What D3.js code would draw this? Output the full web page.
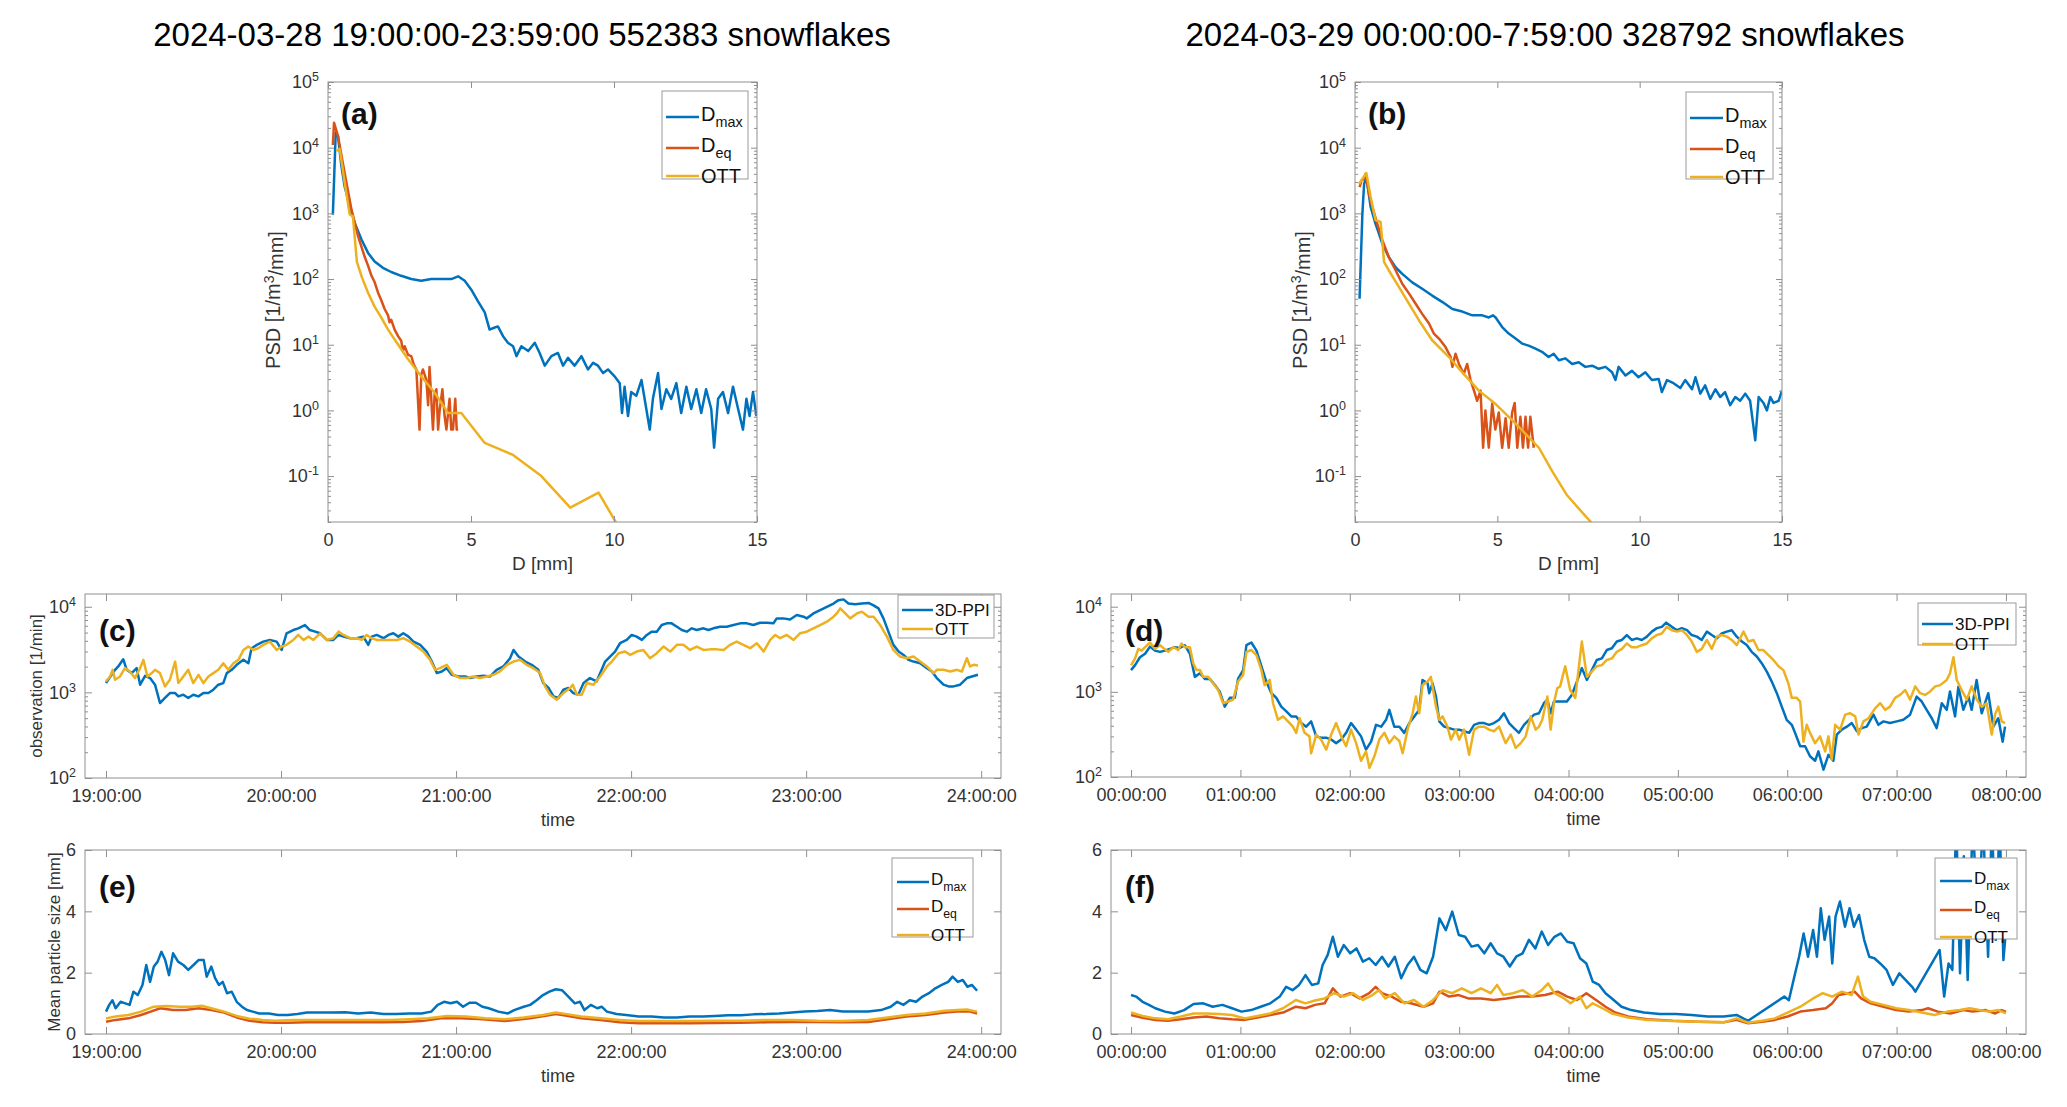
<!DOCTYPE html>
<html>
<head>
<meta charset="utf-8">
<script src="https://cdn.jsdelivr.net/npm/d3@7"></script>
<style>
  body { margin: 0; background: #fff; }
</style>
</head>
<body>
<script>
// ---------- data ----------
// PSD panels: [D (mm), PSD (1/m^3/mm)]
const psdDmax28 = [[0.17,950],[0.27,17000],[0.35,15000],[0.47,5200],[0.58,2600],[0.76,1300],[0.93,720],[1.17,400],[1.4,250],[1.63,185],[1.92,148],[2.21,128],[2.56,112],[2.91,100],[3.26,94],[3.61,100],[3.96,100],[4.31,100],[4.55,110],[4.78,94],[5.01,69],[5.24,46],[5.48,31],[5.65,17],[5.83,18.3],[5.94,19],[6.12,13.5],[6.29,10.7],[6.47,9.5],[6.59,6.7],[6.76,9.5],[7.0,8],[7.23,10.7],[7.4,7.5],[7.58,4.8],[7.81,6.7],[8.04,7.5],[8.22,4.8],[8.39,6.3],[8.62,4.8],[8.86,6.7],[9.09,4.2],[9.27,5.3],[9.44,4.8],[9.62,3.7],[9.79,4.2],[10.02,3.3],[10.2,2.6],[10.28,0.91],[10.37,2.3],[10.49,0.82],[10.6,1.9],[10.78,1.67],[10.96,2.9],[11.13,1.05],[11.25,0.51],[11.36,1.5],[11.54,3.7],[11.66,1.05],[11.83,2.1],[12.0,1.5],[12.18,2.6],[12.35,0.91],[12.53,2.3],[12.7,1.05],[12.88,2.1],[13.05,0.91],[13.22,2.1],[13.4,1.05],[13.5,0.27],[13.64,1.5],[13.81,1.9],[13.99,0.91],[14.16,2.3],[14.34,1.05],[14.51,0.51],[14.63,1.5],[14.74,0.82],[14.86,1.9],[14.98,0.82]];
const psdDeq28 = [[0.17,11000],[0.21,24000],[0.35,15000],[0.58,4150],[0.82,1150],[1.05,450],[1.28,220],[1.4,160],[1.52,112],[1.63,90],[1.75,62],[1.86,48],[1.98,35],[2.1,28],[2.15,22],[2.21,24],[2.33,17],[2.45,13.5],[2.56,11.5],[2.62,8],[2.68,9.5],[2.8,7],[2.91,6.7],[3.0,5],[3.09,4.2],[3.2,0.51],[3.26,3.5],[3.32,4.2],[3.44,2.9],[3.5,1.2],[3.55,4.6],[3.67,0.51],[3.73,1.8],[3.79,2.1],[3.85,0.51],[3.9,0.96],[4.0,2.1],[4.08,0.8],[4.14,0.51],[4.25,1.5],[4.31,0.51],[4.37,0.51],[4.45,1.5],[4.5,0.51],[4.55,0.51]];
const psdOtt28 = [[0.29,8900],[0.41,9600],[0.58,3000],[0.76,960],[0.87,900],[1.01,182],[1.19,105],[1.4,62],[1.63,38],[1.86,26],[2.1,17],[2.33,12],[2.8,6],[3.26,3.3],[3.73,1.86],[4.2,0.91],[4.66,0.91],[5.48,0.32],[6.47,0.21],[7.46,0.1],[8.47,0.033],[9.46,0.056],[11,0.004]];

const psdDmax29 = [[0.16,50],[0.26,1000],[0.32,2800],[0.4,3560],[0.55,1250],[0.72,700],[0.96,345],[1.19,215],[1.43,150],[1.66,120],[2.01,89],[2.36,71],[2.71,56],[3.06,45],[3.42,35],[3.77,32],[4.12,28],[4.47,28],[4.7,26],[4.85,28],[4.94,26],[5.17,18.6],[5.4,14.8],[5.64,12.4],[5.87,10.4],[6.1,9.7],[6.34,8.7],[6.57,7.8],[6.8,6.5],[6.98,7.3],[7.16,5.8],[7.39,6.2],[7.63,5.1],[7.86,5.4],[8.09,4.6],[8.33,4.8],[8.56,4.3],[8.8,4.6],[9.03,3.8],[9.15,2.9],[9.26,4.6],[9.5,3.4],[9.73,4.0],[9.96,3.2],[10.2,3.8],[10.43,2.9],[10.67,3.0],[10.78,1.9],[10.96,2.9],[11.19,2.6],[11.43,2.2],[11.6,2.9],[11.84,2.1],[11.96,3.2],[12.13,1.8],[12.3,2.4],[12.48,1.5],[12.66,2.1],[12.83,1.6],[13.0,1.9],[13.18,1.2],[13.36,1.6],[13.53,1.4],[13.71,1.8],[13.88,1.4],[14.06,0.35],[14.18,1.6],[14.35,1.3],[14.47,1.0],[14.59,1.6],[14.7,1.3],[14.88,1.4],[15.0,2.0]];
const psdDeq29 = [[0.16,2500],[0.23,3170],[0.32,3370],[0.37,4000],[0.49,2000],[0.61,1250],[0.78,700],[0.96,390],[1.19,215],[1.43,135],[1.66,85],[1.9,60],[2.13,42],[2.36,29.5],[2.6,21],[2.77,14.8],[2.95,12.4],[3.18,9.2],[3.36,6.5],[3.42,4.6],[3.53,7.3],[3.65,5.1],[3.82,3.6],[3.94,5.1],[4.06,2.9],[4.18,2.0],[4.29,1.4],[4.41,2.0],[4.5,0.27],[4.58,1.0],[4.7,0.27],[4.82,1.27],[4.93,0.51],[5.05,0.93],[5.17,0.27],[5.29,0.76],[5.4,0.27],[5.52,0.93],[5.61,1.3],[5.7,0.27],[5.81,0.8],[5.9,0.27],[5.99,0.8],[6.08,0.27],[6.16,0.8],[6.28,0.27]];
const psdOtt29 = [[0.14,2800],[0.26,3370],[0.4,4100],[0.55,1780],[0.72,790],[0.9,740],[1.02,182],[1.19,135],[1.54,76],[1.9,42],[2.25,23.4],[2.71,11.7],[3.3,6.5],[3.77,3.8],[4.35,2.0],[4.94,1.25],[5.52,0.71],[5.99,0.44],[6.46,0.27],[6.92,0.12],[7.45,0.051],[7.98,0.028],[8.33,0.019],[9.5,0.004]];

// observation panels: [minutes after 19:00 (c) / after 00:00 (d), count per minute]
const obsPPI28 = [[0,1285],[1.4,1510],[3.1,1835],[4.2,2010],[5.9,2440],[7.1,1835],[8.8,1680],[10.5,1920],[11.7,1230],[13.4,1560],[15.1,1470],[16.8,1230],[18.5,751],[20.2,860],[21.9,982],[23.7,982],[24.8,898],[26.5,940],[28.2,860],[29.9,940],[31.7,898],[33.4,982],[35.1,982],[36.8,1074],[38.5,1230],[40.2,1285],[41.4,1680],[43.1,1835],[44.8,2100],[47.1,2400],[48.8,2190],[49.9,3280],[51.7,3590],[53.9,3920],[56.2,4100],[58.5,3920],[60.2,3130],[61.9,4900],[64.2,5350],[65.9,5600],[68.2,6120],[69.9,5350],[71.7,5120],[73.4,4900],[75.7,4100],[77.9,4100],[79.7,4690],[81.4,4480],[83.7,4290],[85.9,4290],[88.2,4480],[89.9,3590],[91.1,4480],[92.8,4690],[95.1,4290],[96.8,4690],[98.5,4900],[100.2,4480],[101.9,4900],[103.7,4480],[105.4,3920],[107.7,3590],[109.9,3000],[111.7,2290],[113.4,1680],[115.1,1755],[116.8,1920],[118.5,1605],[120.8,1535],[123.1,1535],[124.8,1470],[127.1,1535],[129.4,1560],[131.7,1535],[133.9,1835],[136.2,2010],[138.5,2510],[139.7,3130],[141.4,2620],[143.7,2290],[145.9,2100],[148.2,1835],[149.9,1285],[151.7,1125],[153.4,898],[155.1,860],[156.8,1074],[158.5,1125],[160.2,982],[161.9,940],[163.7,1285],[165.9,1470],[168.2,1345],[169.9,1835],[171.1,2290],[172.8,2620],[174.5,3000],[176.2,3750],[178.5,4100],[180.2,4690],[181.9,4480],[183.7,4100],[185.4,4690],[187.1,5120],[188.8,5120],[190.5,6120],[192.2,6400],[193.9,6400],[195.7,5850],[197.4,5350],[199.1,5120],[200.8,5600],[202.5,5350],[204.8,5600],[206.5,5350],[208.2,5600],[210.5,5850],[212.8,5850],[215.1,6120],[217.4,6400],[219.7,6400],[221.9,6120],[224.2,6500],[226.5,6500],[228.8,6400],[229.9,7320],[232.2,7320],[234.5,7100],[236.8,8000],[239.1,7650],[240.2,7320],[242.5,8360],[244.8,9150],[247.1,10000],[249.4,10900],[251.1,11950],[252.8,12200],[254.5,10900],[256.8,10700],[259.1,10900],[261.4,11100],[263.1,10400],[264.8,9570],[266.5,7320],[268.2,5120],[269.9,3590],[271.7,3000],[273.4,2740],[275.1,2400],[276.8,2290],[279.1,2190],[281.4,1920],[283.1,1755],[284.8,1470],[287.1,1230],[288.8,1175],[290.5,1175],[292.8,1230],[295.1,1470],[296.8,1535],[298.9,1605]];
const obsOTT28 = [[0,1345],[1.4,1535],[2.3,1835],[3.1,1405],[4.8,1535],[6.5,1920],[8.2,1755],[9.9,1470],[11.7,1920],[12.8,2400],[14.2,1535],[15.7,1680],[16.8,1835],[18.5,1680],[20.2,1175],[21.9,1405],[23.7,2290],[24.8,1285],[26.5,1535],[28.2,1835],[29.9,1285],[31.7,1605],[33.4,1285],[35.1,1535],[36.8,1680],[38.5,1835],[40.2,2190],[41.9,1835],[43.7,2190],[45.4,2400],[47.1,3130],[48.8,3430],[50.5,3130],[52.2,3280],[53.9,3590],[56.2,3920],[58.5,3130],[60.2,3430],[61.9,3590],[64.2,4100],[65.9,4690],[67.7,4100],[69.4,4480],[71.1,4100],[73.4,4900],[75.7,4100],[77.9,4290],[79.7,5120],[81.4,4690],[83.7,4290],[85.9,4290],[87.7,4100],[89.4,4690],[91.1,4290],[92.8,4100],[95.1,4100],[97.4,4100],[99.7,4100],[101.9,4290],[104.2,3920],[106.5,3430],[108.8,3000],[111.1,2400],[112.8,1835],[114.5,1920],[116.8,2100],[119.1,1605],[121.4,1470],[123.7,1470],[125.9,1535],[128.2,1470],[130.5,1535],[132.8,1605],[135.1,1755],[137.4,2100],[139.7,2290],[141.9,2400],[144.2,2100],[146.5,1920],[148.8,1680],[150.5,1175],[152.2,940],[154.5,822],[156.8,982],[159.1,1125],[160.0,1230],[161.4,940],[163.1,940],[164.8,1285],[167.1,1230],[169.4,1535],[171.7,2010],[173.4,2290],[175.7,2870],[177.9,3000],[179.7,2740],[181.9,3000],[184.2,3130],[186.5,2510],[188.8,2870],[191.1,3430],[193.4,3000],[195.7,3590],[197.9,3590],[200.2,3130],[202.5,3430],[204.8,3130],[207.1,3180],[209.4,3180],[211.7,3130],[213.9,3590],[216.2,3920],[218.5,3590],[220.8,3280],[223.1,3750],[225.4,3000],[227.7,4100],[229.4,4690],[231.1,4290],[233.4,4690],[235.7,4100],[237.9,4900],[240.2,5120],[242.5,5600],[244.8,6120],[247.1,6700],[249.4,7650],[250.5,8360],[251.7,9570],[253.4,8360],[255.1,7320],[257.4,8360],[259.1,8750],[261.4,7650],[263.1,7650],[265.4,6120],[267.7,4480],[269.9,3130],[272.2,2620],[274.5,2510],[276.8,2620],[279.1,2290],[281.4,2010],[283.7,1680],[284.8,1835],[287.1,1835],[289.4,1755],[291.7,1835],[293.4,1755],[295.1,2510],[296.2,2010],[297.4,2100],[298.9,2060]];

const obsPPI29 = [[0,1800],[2.2,2060],[4.9,2550],[7.7,2800],[10.4,3400],[13.1,3050],[15.9,2950],[18.6,3050],[21.3,3200],[24.1,3350],[26.8,3280],[29.5,3530],[32.3,2800],[35,1500],[37.8,1650],[40.5,1420],[43.2,1420],[46,1200],[48.7,1000],[51.4,670],[54.2,850],[56.9,850],[58.7,1420],[61.5,1800],[63.3,3530],[66,3800],[68.8,3050],[71.5,2000],[74.2,1320],[77,965],[79.7,850],[82.4,670],[85.2,590],[87.9,515],[90.6,515],[93.4,430],[96.1,390],[98.8,450],[101.6,300],[104.3,290],[107.1,290],[109.8,275],[112.5,250],[115.3,275],[118,330],[120.7,430],[123.5,360],[126.2,300],[128.9,210],[131.7,260],[134.4,410],[137.2,390],[139.9,470],[141.7,615],[144.4,390],[147.2,390],[149.9,330],[152.7,430],[155.4,515],[158.1,615],[159.9,1380],[162.7,1260],[163.6,965],[165.4,1260],[167.3,880],[169.1,450],[171.8,390],[174.5,375],[177.3,360],[180,360],[182.7,345],[185.5,330],[188.2,410],[190.9,430],[193.7,430],[196.4,410],[199.1,430],[201.9,470],[204.6,560],[207.4,430],[210.1,375],[212.8,330],[215.6,410],[218.3,470],[221.1,540],[223.8,560],[226.5,735],[228.4,810],[230.2,560],[232,770],[234.8,770],[239.1,770],[241.8,920],[244.6,1320],[247.3,1900],[250.1,1380],[252.8,1800],[255.5,2370],[258.3,2470],[261,3100],[263.8,3250],[266.5,3900],[269.3,4070],[272,4650],[274.7,4070],[277.5,4250],[280.2,4070],[283,4450],[285.7,5100],[288.5,5600],[291.2,5800],[293.6,6500],[296.7,5800],[299.5,5300],[302.2,5600],[305,5300],[307.6,4650],[310.4,4450],[313.1,4070],[315.9,5100],[318.6,4650],[321.4,4250],[324.1,4850],[326.8,5100],[329.6,5300],[332.3,4450],[335.1,3900],[337.8,3550],[340.5,2950],[343.3,2600],[346,2170],[348.8,1730],[351.5,1320],[354.3,965],[357,670],[359.7,470],[362.5,410],[364.3,330],[367.1,230],[369.8,230],[372.5,175],[375.3,155],[377.1,200],[379.9,122],[382.6,182],[385.3,155],[387.2,315],[389.9,360],[392.7,390],[395.4,430],[398.2,345],[400.9,375],[403.6,390],[407.3,540],[410,410],[412.8,450],[416.4,430],[420.1,450],[423.7,470],[427.4,540],[431,880],[433.8,770],[436.5,615],[439.3,490],[442,375],[444.8,735],[447.5,615],[449.3,1010],[452.1,515],[453.9,1150],[456.6,615],[459.4,880],[461.2,615],[463.9,1380],[466.7,560],[470.3,965],[473.1,390],[475.8,490],[478.2,260],[479.5,390]];
const obsOTT29 = [[0,2040],[2.2,2470],[4,3200],[5.8,3050],[7.7,3350],[10.4,3800],[13.1,3200],[15.9,3530],[17.7,3280],[20.4,2950],[23.2,3350],[25.9,3100],[27.7,3700],[29.5,3350],[32.3,3350],[34.1,2170],[35.9,1800],[37.8,1800],[39.6,1500],[42.3,1500],[45,1260],[47.8,1050],[50.5,735],[53.3,770],[56,810],[58.7,1320],[61.5,1580],[63.3,2950],[66,3100],[68.8,2700],[71.5,1800],[73.3,1200],[76.1,1380],[77.9,735],[80.6,470],[83.4,515],[86.1,450],[88.8,390],[90.6,330],[92.5,490],[95.2,330],[97.9,300],[98.8,190],[101.6,315],[104.3,275],[107.1,210],[109.8,315],[112.5,430],[115.3,300],[118,230],[120.7,360],[123.5,250],[126.2,155],[128.9,200],[130.8,128],[133.5,175],[136.2,275],[139,330],[141.7,250],[144.4,300],[147.2,265],[149,190],[151.7,360],[154.5,560],[156.3,880],[158.1,560],[159.9,1200],[162.7,1320],[164.5,1500],[167.3,670],[169.1,470],[170.9,515],[173.6,390],[175.5,275],[178.2,360],[180,275],[182.7,360],[185.5,182],[188.2,360],[190.9,390],[193.7,390],[196.4,360],[199.1,345],[201.9,390],[205.5,250],[208.3,315],[211,220],[213.8,250],[216.5,300],[219.3,515],[222,360],[223.8,390],[225.6,470],[228.4,880],[230.2,360],[232,735],[233.8,1100],[235.4,1160],[238.2,2000],[240.9,1050],[243.7,850],[247.3,3900],[250.1,1500],[252.8,1730],[255.5,2000],[258.3,2060],[261,2370],[263.8,2470],[266.5,2950],[269.3,3200],[272,3700],[274.7,3350],[277.5,3350],[280.2,3530],[283,3700],[285.7,4250],[288.5,4650],[291.2,4850],[294,5800],[296.7,5300],[299.5,5100],[302.2,5300],[305,4650],[307.6,3900],[310.4,2950],[313.1,3200],[315.9,4070],[318.6,3200],[321.4,4450],[324.1,4650],[326.8,4450],[329.6,4070],[332.3,3530],[336,5100],[338.7,3900],[341.5,4070],[344.2,3100],[346.9,3100],[349.7,2700],[352.4,2370],[355.2,2000],[357.9,1800],[360.6,1260],[362.5,850],[365.2,850],[367.1,770],[368.9,260],[370.7,410],[372.5,330],[375.3,250],[378,300],[380.8,200],[382.6,300],[384.4,160],[386.3,410],[389,360],[391.8,540],[394.5,560],[397.3,515],[399.1,315],[401.8,450],[404.6,490],[408.2,640],[411,735],[413.7,615],[416.4,670],[419.2,850],[421.9,920],[424.7,1050],[427.4,810],[430.2,1160],[432.9,965],[435.7,920],[438.4,1010],[441.2,1160],[443.9,1200],[447.5,1380],[449.3,1650],[451.2,2550],[453,1380],[455.7,1050],[458.5,810],[461.2,1160],[464,810],[466.7,670],[469.4,735],[472.2,315],[474,540],[475.8,670],[477.7,450],[479.5,430]];

// mean particle size panels: [minutes, mm]
const sizeDmax28 = [[0,0.73],[1.1,0.95],[2.2,1.1],[3.3,0.84],[5,1.05],[6.6,1.0],[8.1,0.95],[9.4,1.38],[10.9,1.27],[12.5,1.6],[13.8,2.25],[15.1,1.7],[16.4,2.2],[17.7,2.36],[19,2.68],[20.3,2.41],[21.6,1.92],[23,2.63],[24.7,2.36],[26.5,2.25],[28.2,2.09],[30,2.25],[31.7,2.41],[33.5,2.41],[34.5,1.87],[36.1,2.2],[37.4,1.82],[38.7,1.6],[40,1.7],[41.5,1.33],[43.1,1.38],[44.8,1.05],[46.6,0.89],[48.3,0.78],[50.3,0.73],[52.5,0.67],[55.8,0.67],[59,0.62],[62.3,0.62],[65.6,0.65],[68.9,0.7],[73.3,0.7],[77.6,0.7],[82,0.71],[86.4,0.67],[90.7,0.7],[95.1,0.65],[99.5,0.65],[103.9,0.67],[108.2,0.67],[111.5,0.73],[113.7,0.95],[115.9,1.05],[118.1,1.0],[120.3,1.05],[122.4,0.89],[124.6,1.02],[126.8,1.02],[129,0.89],[131.2,0.84],[134.5,0.73],[137.8,0.67],[139.9,0.78],[143.2,0.89],[145.4,0.95],[147.6,1.1],[149.8,1.27],[152,1.38],[154.2,1.46],[156.3,1.43],[158.5,1.22],[160.7,1.0],[162.5,1.05],[164,0.78],[166.2,0.95],[168.4,0.84],[169.9,0.89],[171.7,0.73],[175,0.65],[178.3,0.62],[182.6,0.57],[187,0.57],[191.3,0.54],[195.7,0.54],[200.1,0.57],[204.5,0.57],[208.8,0.59],[213.2,0.61],[217.6,0.61],[222,0.64],[226.3,0.65],[230.7,0.67],[235.1,0.7],[239.5,0.73],[243.8,0.75],[248.2,0.78],[252.6,0.73],[257,0.73],[261.3,0.73],[265.7,0.78],[269,0.89],[271.2,1.05],[273.4,0.95],[275.5,1.1],[277.7,1.05],[279.9,1.22],[282.1,1.33],[284.3,1.49],[286.5,1.6],[288.7,1.7],[290.2,1.87],[292,1.7],[293.7,1.76],[295.3,1.54],[296.8,1.6],[298.6,1.41]];
const sizeDeq28 = [[0,0.4],[3.3,0.46],[7.7,0.51],[12,0.62],[15.3,0.73],[18.6,0.84],[23,0.78],[27.3,0.78],[31.7,0.84],[36.1,0.78],[40.5,0.7],[44.8,0.54],[49.2,0.43],[53.6,0.38],[58,0.37],[62.3,0.37],[68.9,0.38],[75.4,0.39],[82,0.38],[88.6,0.39],[95.1,0.38],[101.7,0.39],[108.2,0.42],[114.8,0.51],[121.4,0.51],[127.9,0.49],[136.7,0.42],[145.4,0.51],[154.2,0.65],[158.5,0.59],[162.9,0.51],[169.5,0.46],[176.1,0.38],[182.6,0.35],[191.3,0.35],[200.1,0.35],[208.8,0.36],[217.6,0.37],[226.3,0.38],[235.1,0.39],[243.8,0.39],[252.6,0.38],[261.3,0.39],[267.9,0.48],[274.4,0.57],[280.9,0.62],[287.5,0.7],[291.8,0.73],[296.2,0.73],[298.6,0.67]];
const sizeOtt28 = [[0,0.51],[3.3,0.57],[7.7,0.62],[12,0.73],[16.4,0.89],[20.8,0.91],[25.2,0.89],[29.5,0.89],[32.8,0.92],[36.1,0.84],[40.5,0.73],[44.8,0.59],[49.2,0.5],[53.6,0.46],[58,0.43],[64.5,0.46],[71.1,0.46],[77.6,0.46],[84.2,0.46],[90.7,0.46],[97.3,0.46],[103.9,0.48],[110.4,0.51],[117,0.59],[123.5,0.57],[130.1,0.51],[136.7,0.48],[143.2,0.54],[149.8,0.62],[154.2,0.7],[158.5,0.64],[162.9,0.57],[169.5,0.51],[176.1,0.46],[182.6,0.42],[191.3,0.42],[200.1,0.42],[208.8,0.43],[217.6,0.43],[226.3,0.46],[235.1,0.46],[243.8,0.43],[252.6,0.42],[261.3,0.46],[267.9,0.54],[274.4,0.62],[280.9,0.67],[287.5,0.76],[291.8,0.78],[295.1,0.8],[298.6,0.73]];

const sizeDmax29 = [[0,1.27],[2.8,1.22],[6.3,1.05],[9.8,0.95],[13.3,0.84],[18.6,0.73],[23.8,0.67],[29.1,0.78],[34.3,0.98],[39.6,1.0],[44.8,0.89],[50.1,0.95],[55.4,0.84],[60.6,0.73],[65.9,0.78],[71.1,0.89],[76.4,1.0],[81.6,1.22],[85.1,1.54],[88.6,1.43],[92.2,1.6],[95.7,1.92],[99.2,1.6],[102.7,1.65],[105.1,2.25],[107.9,2.58],[110.7,3.17],[113.5,2.52],[116.7,2.9],[120.2,2.63],[123.7,2.79],[127.2,2.36],[130.7,2.47],[134.2,2.25],[137.7,2.52],[141.2,2.2],[144.7,2.52],[148.2,1.82],[151.7,2.25],[155.2,2.52],[158.7,2.09],[162.2,1.98],[165.7,2.52],[169.2,3.77],[172.7,3.39],[176.2,3.99],[179.8,3.23],[183.3,3.17],[186.8,2.85],[190.3,2.9],[193.8,2.63],[197.3,2.96],[200.8,2.63],[204.3,2.52],[207.8,2.2],[211.3,2.52],[214.8,2.63],[218.3,3.07],[221.8,2.79],[225.3,3.34],[228.8,2.9],[232.3,3.17],[235.8,3.28],[239.3,3.01],[242.8,2.96],[246.3,2.47],[249.8,2.3],[253.3,1.71],[256.8,1.6],[260.3,1.33],[263.8,1.16],[269.1,0.89],[274.4,0.78],[281.4,0.7],[290.1,0.65],[298.9,0.65],[307.6,0.62],[316.4,0.57],[325.2,0.57],[332.2,0.62],[338.5,0.43],[358.4,1.22],[360.9,1.1],[363.7,1.82],[366.5,2.52],[369,3.28],[371.4,2.52],[374.2,3.39],[376.3,2.52],[378.4,4.1],[380.5,3.07],[383,3.83],[384.7,2.3],[386.5,3.83],[388.9,4.32],[391.7,3.5],[394.2,4.1],[396.6,3.5],[399.4,3.88],[402.2,3.07],[405,2.52],[407.8,2.47],[411,2.3],[414.5,2.09],[418,1.6],[421.5,1.98],[425,1.76],[428.5,1.54],[430.3,1.38],[443.6,2.74],[446.1,1.22],[448.5,2.3],[450.6,2.09],[452.7,7],[454.8,1.98],[456.9,5.8],[459,1.76],[461.8,7],[464.6,3.39],[467.4,7],[470.2,2.52],[472.3,7],[474.4,3.07],[476.5,7],[478.6,2.41],[480,3.39]];
const sizeDeq29 = [[0,0.62],[6.3,0.53],[13.3,0.46],[20.3,0.43],[27.3,0.48],[34.3,0.54],[41.3,0.57],[48.4,0.51],[55.4,0.48],[62.4,0.46],[69.4,0.54],[76.4,0.62],[83.4,0.7],[90.4,0.89],[95.7,0.84],[100.9,0.95],[106.2,1.0],[110.7,1.49],[114.9,1.22],[120.2,1.33],[125.4,1.16],[130.7,1.33],[134.2,1.54],[137.7,1.33],[143,1.22],[148.2,1.05],[153.5,1.0],[160.5,0.89],[165.7,1.0],[169.2,1.38],[174.5,1.22],[179.8,1.27],[185,1.16],[192,1.16],[199,1.11],[206,1.16],[213,1.22],[220.1,1.22],[227.1,1.27],[234.1,1.38],[239.3,1.22],[244.6,1.11],[249.8,1.33],[255.1,1.11],[260.3,0.89],[265.6,0.7],[272.6,0.57],[283.1,0.48],[297.1,0.43],[311.1,0.4],[325.2,0.38],[332.2,0.46],[338.5,0.35],[346.2,0.4],[353.2,0.46],[360.2,0.57],[367.2,0.73],[374.2,0.78],[381.2,0.84],[384.7,1.0],[388.2,1.27],[393.5,1.33],[397,1.38],[400.5,1.16],[405.8,1.0],[412.8,0.89],[419.8,0.78],[426.8,0.73],[433.8,0.78],[437.3,0.84],[442.6,0.73],[449.6,0.67],[456.6,0.78],[461.8,0.73],[468.8,0.78],[474.1,0.67],[477.6,0.78],[480,0.73]];
const sizeOtt29 = [[0,0.7],[6.3,0.59],[13.3,0.51],[20.3,0.48],[27.3,0.57],[34.3,0.67],[41.3,0.67],[48.4,0.65],[55.4,0.62],[62.4,0.51],[69.4,0.59],[76.4,0.67],[83.4,0.84],[90.4,1.11],[95.7,1.0],[100.9,1.09],[106.2,1.16],[111.4,1.33],[116.7,1.22],[121.9,1.33],[127.2,1.11],[132.4,1.27],[136,1.43],[139.5,1.16],[144.7,1.33],[150,1.0],[155.2,1.11],[160.5,0.89],[165.7,1.11],[171,1.43],[176.2,1.33],[181.5,1.49],[186.8,1.33],[192,1.49],[197.3,1.33],[200.8,1.6],[204.3,1.27],[209.5,1.33],[214.8,1.43],[220.1,1.22],[225.3,1.43],[228.8,1.65],[232.3,1.33],[237.6,1.16],[241.1,1.0],[246.3,1.22],[249.8,0.84],[253.3,1.0],[258.6,0.84],[263.8,0.67],[272.6,0.54],[283.1,0.46],[297.1,0.42],[311.1,0.4],[325.2,0.38],[332.2,0.51],[338.5,0.37],[346.2,0.43],[353.2,0.51],[360.2,0.7],[367.2,0.89],[374.2,1.16],[379.5,1.33],[384.7,1.22],[390,1.38],[395.3,1.27],[398.8,1.87],[401.6,1.22],[405.8,1.05],[412.8,0.95],[419.8,0.84],[426.8,0.78],[433.8,0.7],[440.8,0.62],[447.8,0.73],[454.8,0.78],[460.1,0.84],[465.3,0.78],[470.6,0.73],[475.8,0.78],[480,0.67]];

// axis limits and tick labels
const psdXTicks = [0, 5, 10, 15];
const psdYTicks = [0.1, 1, 10, 100, 1000, 10000, 100000];
const obsYTicks = [100, 1000, 10000];
const sizeYTicks = [0, 2, 4, 6];
const timeTicks28 = [0, 60, 120, 180, 240, 300];
const timeLabels28 = ["19:00:00", "20:00:00", "21:00:00", "22:00:00", "23:00:00", "24:00:00"];
const timeTicks29 = [0, 60, 120, 180, 240, 300, 360, 420, 480];
const timeLabels29 = ["00:00:00", "01:00:00", "02:00:00", "03:00:00", "04:00:00", "05:00:00", "06:00:00", "07:00:00", "08:00:00"];
const titles = ["2024-03-28 19:00:00-23:59:00 552383 snowflakes", "2024-03-29 00:00:00-7:59:00 328792 snowflakes"];

// ---------- drawing ----------
const FONT = '"Liberation Sans", Arial, Helvetica, sans-serif';
const AX = "#8f8f8f", TXT = "#333333";
const blue = "#0072BD", red = "#D95319", yellow = "#EDB120";
const LW = 2.5;

const svg = d3.select("body").append("svg")
  .attr("width", 2067).attr("height", 1107)
  .attr("font-family", FONT);
const defs = svg.append("defs");

function makePanel(id, box) {
  defs.append("clipPath").attr("id", "clip-" + id)
    .append("rect").attr("width", box.w).attr("height", box.h);
  return svg.append("g").attr("transform", `translate(${box.x},${box.y})`);
}

function addLine(g, id, data, x, y, color) {
  g.append("path")
    .datum(data)
    .attr("clip-path", `url(#clip-${id})`)
    .attr("fill", "none")
    .attr("stroke", color)
    .attr("stroke-width", LW)
    .attr("stroke-linejoin", "round")
    .attr("d", d3.line().x(d => x(d[0])).y(d => y(d[1])));
}

function styleAxis(s) {
  s.attr("font-family", FONT).attr("font-size", 18);
  s.select(".domain").remove();
  s.selectAll("line").attr("stroke", AX);
  s.selectAll("text").attr("fill", TXT);
}

function drawAxes(g, box, x, y, o) {
  const tl = o.tick;
  const none = () => "";
  g.append("g").attr("transform", `translate(0,${box.h})`)
    .call(d3.axisBottom(x).tickValues(o.xTicks).tickFormat(o.xFmt).tickSizeInner(-tl).tickSizeOuter(0).tickPadding(11))
    .call(styleAxis);
  g.append("g")
    .call(d3.axisTop(x).tickValues(o.xTicks).tickFormat(none).tickSizeInner(-tl).tickSizeOuter(0))
    .call(styleAxis);
  const left = g.append("g")
    .call(d3.axisLeft(y).tickValues(o.yTicks).tickFormat(o.log ? none : d3.format("d")).tickSizeInner(-tl).tickSizeOuter(0).tickPadding(9))
    .call(styleAxis);
  g.append("g").attr("transform", `translate(${box.w},0)`)
    .call(d3.axisRight(y).tickValues(o.yTicks).tickFormat(none).tickSizeInner(-tl).tickSizeOuter(0))
    .call(styleAxis);

  if (o.log) {
    // 10^n labels
    left.selectAll(".tick text").each(function (d) {
      const t = d3.select(this);
      t.text(null);
      t.append("tspan").text("10");
      t.append("tspan").attr("dy", "-0.55em").attr("font-size", 12.5).text(Math.round(Math.log10(d)));
    });
    // minor ticks
    const [lo, hi] = y.domain();
    const minor = [];
    for (let e = Math.floor(Math.log10(lo)); e < Math.log10(hi); e++) {
      for (let m = 2; m < 10; m++) {
        const v = m * Math.pow(10, e);
        if (v >= lo && v <= hi) minor.push(v);
      }
    }
    g.append("g").call(d3.axisLeft(y).tickValues(minor).tickFormat(none).tickSizeInner(-3).tickSizeOuter(0)).call(styleAxis);
    g.append("g").attr("transform", `translate(${box.w},0)`)
      .call(d3.axisRight(y).tickValues(minor).tickFormat(none).tickSizeInner(-3).tickSizeOuter(0)).call(styleAxis);
  }

  g.append("rect").attr("width", box.w).attr("height", box.h)
    .attr("fill", "none").attr("stroke", AX).attr("stroke-width", 1);
}

function panelLabel(g, txt, dx, dy) {
  g.append("text").attr("x", dx).attr("y", dy)
    .attr("font-size", 30).attr("font-weight", "bold").attr("fill", "#111").text(txt);
}

function legend(g, L, items, size) {
  const lg = g.append("g").attr("transform", `translate(${L.x},${L.y})`);
  lg.append("rect").attr("width", L.w).attr("height", L.h)
    .attr("fill", "#fff").attr("stroke", "#9a9a9a");
  items.forEach((it, i) => {
    const yy = L.rows[i];
    lg.append("line").attr("x1", L.l0).attr("x2", L.l1).attr("y1", yy).attr("y2", yy)
      .attr("stroke", it.color).attr("stroke-width", LW);
    const t = lg.append("text").attr("x", L.tx).attr("y", yy)
      .attr("font-size", size).attr("fill", "#111");
    if (it.sub) {
      t.append("tspan").attr("dy", "0.2em").text(it.name);
      t.append("tspan").attr("dy", "0.45em").attr("font-size", size * 0.72).text(it.sub);
    } else {
      t.attr("dy", "0.36em").text(it.name);
    }
  });
}

const items3 = [
  { name: "D", sub: "max", color: blue },
  { name: "D", sub: "eq", color: red },
  { name: "OTT", color: yellow }
];
const items2 = [
  { name: "3D-PPI", color: blue },
  { name: "OTT", color: yellow }
];

// titles
svg.append("text").attr("x", 522).attr("y", 46).attr("text-anchor", "middle")
  .attr("font-size", 33).attr("fill", "#000").text(titles[0]);
svg.append("text").attr("x", 1545).attr("y", 46).attr("text-anchor", "middle")
  .attr("font-size", 33).attr("fill", "#000").text(titles[1]);

// ---------- PSD panels (a), (b) ----------
function psdPanel(id, box, series, lab, leg) {
  const g = makePanel(id, box);
  const x = d3.scaleLinear().domain([0, 15]).range([0, box.w]);
  const y = d3.scaleLog().domain([0.02, 1e5]).range([box.h, 0]);
  series.forEach(s => addLine(g, id, s.data, x, y, s.color));
  drawAxes(g, box, x, y, { xTicks: psdXTicks, xFmt: d3.format("d"), yTicks: psdYTicks, log: true, tick: 6 });
  panelLabel(g, lab, 13, 42);
  legend(g, leg, items3, 20);
  g.append("text").attr("x", box.w / 2).attr("y", box.h + 48).attr("text-anchor", "middle")
    .attr("font-size", 19).attr("fill", TXT).text("D [mm]");
  const yl = g.append("text").attr("transform", `translate(-55,${box.h / 2 - 2}) rotate(-90)`)
    .attr("text-anchor", "middle").attr("dy", "0.35em").attr("font-size", 20).attr("fill", TXT);
  yl.append("tspan").text("PSD [1/m");
  yl.append("tspan").attr("dy", "-0.45em").attr("font-size", 14).text("3");
  yl.append("tspan").attr("dy", "0.45em").text("/mm]");
}

psdPanel("a", { x: 328, y: 82, w: 429, h: 440 },
  [{ data: psdDmax28, color: blue }, { data: psdDeq28, color: red }, { data: psdOtt28, color: yellow }],
  "(a)", { x: 334, y: 9, w: 86, h: 88, rows: [26, 57, 85], l0: 4, l1: 37, tx: 39 });
psdPanel("b", { x: 1355, y: 82, w: 427, h: 440 },
  [{ data: psdDmax29, color: blue }, { data: psdDeq29, color: red }, { data: psdOtt29, color: yellow }],
  "(b)", { x: 331, y: 10, w: 87, h: 87, rows: [26, 57, 85], l0: 4, l1: 37, tx: 39 });

// ---------- time series panels ----------
function timePanel(id, box, xDom, ticks, labels, yScale, yTicks, log, series, lab, leg, items, yLabel) {
  const g = makePanel(id, box);
  const x = d3.scaleLinear().domain(xDom).range([0, box.w]);
  const y = yScale.range([box.h, 0]);
  series.forEach(s => addLine(g, id, s.data, x, y, s.color));
  drawAxes(g, box, x, y, { xTicks: ticks, xFmt: (d, i) => labels[i], yTicks: yTicks, log: log, tick: 7 });
  panelLabel(g, lab, 14, 47);
  legend(g, leg, items, 17);
  g.append("text").attr("x", x((xDom[0] + xDom[1]) / 2) + 15).attr("y", box.h + 48).attr("text-anchor", "middle")
    .attr("font-size", 18).attr("fill", TXT).text("time");
  if (yLabel) {
    g.append("text").attr("transform", `translate(${yLabel.dx},${box.h / 2}) rotate(-90)`)
      .attr("text-anchor", "middle").attr("dy", "0.35em").attr("font-size", 17).attr("fill", TXT).text(yLabel.text);
  }
}

const dom28 = [-7.2, 306.8], dom29 = [-11, 491];

timePanel("c", { x: 85, y: 594, w: 916, h: 184 }, dom28, timeTicks28, timeLabels28,
  d3.scaleLog().domain([100, 14100]), obsYTicks, true,
  [{ data: obsPPI28, color: blue }, { data: obsOTT28, color: yellow }],
  "(c)", { x: 813, y: 1, w: 96, h: 43, rows: [15, 34], l0: 4, l1: 35, tx: 37 }, items2,
  { dx: -49, text: "observation [1/min]" });

timePanel("d", { x: 1111, y: 594, w: 915, h: 183 }, dom29, timeTicks29, timeLabels29,
  d3.scaleLog().domain([100, 14100]), obsYTicks, true,
  [{ data: obsPPI29, color: blue }, { data: obsOTT29, color: yellow }],
  "(d)", { x: 807, y: 9, w: 98, h: 42, rows: [21, 41], l0: 4, l1: 35, tx: 37 }, items2, null);

timePanel("e", { x: 85, y: 850, w: 916, h: 184 }, dom28, timeTicks28, timeLabels28,
  d3.scaleLinear().domain([0, 6]), sizeYTicks, false,
  [{ data: sizeDmax28, color: blue }, { data: sizeDeq28, color: red }, { data: sizeOtt28, color: yellow }],
  "(e)", { x: 807, y: 8, w: 81, h: 79, rows: [24, 51, 77], l0: 5, l1: 37, tx: 39 }, items3,
  { dx: -31, text: "Mean particle size [mm]" });

timePanel("f", { x: 1111, y: 850, w: 915, h: 184 }, dom29, timeTicks29, timeLabels29,
  d3.scaleLinear().domain([0, 6]), sizeYTicks, false,
  [{ data: sizeDmax29, color: blue }, { data: sizeDeq29, color: red }, { data: sizeOtt29, color: yellow }],
  "(f)", { x: 824, y: 8, w: 82, h: 81, rows: [23, 52, 79], l0: 5, l1: 37, tx: 39 }, items3, null);
</script>
</body>
</html>
